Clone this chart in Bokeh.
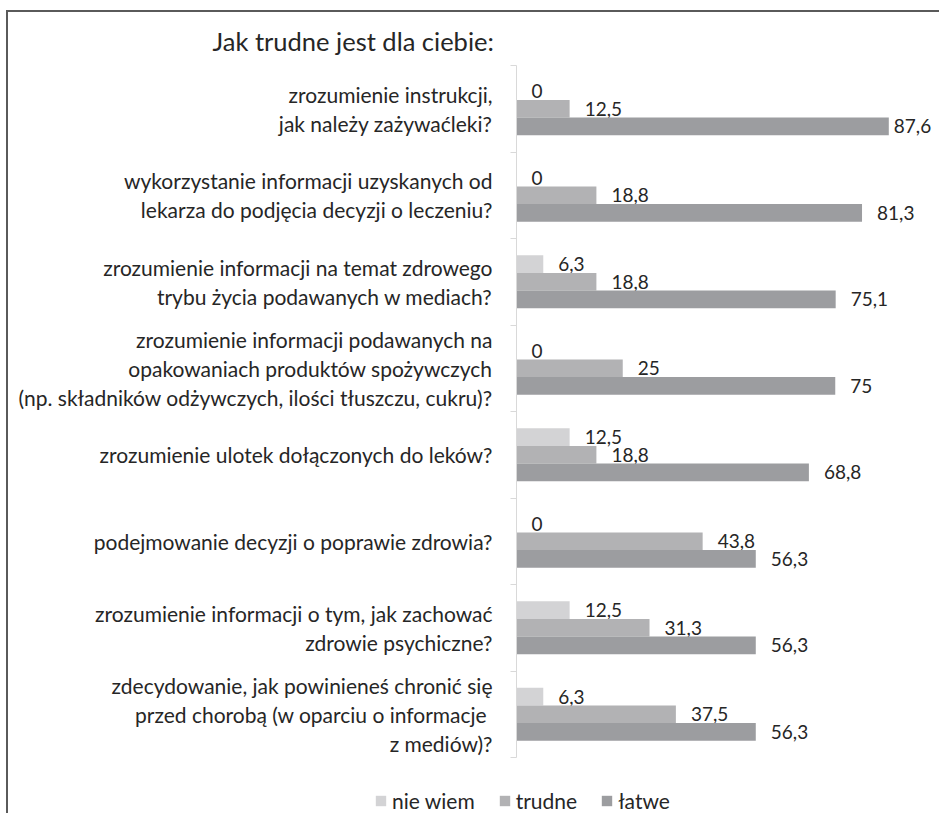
from bokeh.plotting import figure
from bokeh.models import FixedTicker, Legend, LegendItem, ColumnDataSource
from bokeh.core.properties import value
from bokeh.embed import file_html
from bokeh.resources import INLINE
import numpy as np

title = "Jak trudne jest dla ciebie:"
categories = [
    "zrozumienie instrukcji,\njak należy zażywaćleki?",
    "wykorzystanie informacji uzyskanych od\nlekarza do podjęcia decyzji o leczeniu?",
    "zrozumienie informacji na temat zdrowego\ntrybu życia podawanych w mediach?",
    "zrozumienie informacji podawanych na\nopakowaniach produktów spożywczych\n(np. składników odżywczych, ilości tłuszczu, cukru)?",
    "zrozumienie ulotek dołączonych do leków?",
    "podejmowanie decyzji o poprawie zdrowia?",
    "zrozumienie informacji o tym, jak zachować\nzdrowie psychiczne?",
    "zdecydowanie, jak powinieneś chronić się\nprzed chorobą (w oparciu o informacje \nz mediów)?",
]
series_names = ["nie wiem", "trudne", "łatwe"]
nie_wiem = [0, 0, 6.3, 0, 12.5, 0, 12.5, 6.3]
trudne = [12.5, 18.8, 18.8, 25, 18.8, 43.8, 31.3, 37.5]
latwe = [87.6, 81.3, 75.1, 75, 68.8, 56.3, 56.3, 56.3]

colors = ["#d3d3d5", "#b2b2b4", "#9c9da0"]
FONT = "Lato"
TXT = "#262626"
BORDER = "2px solid #5a5a5a"

n = len(categories)
centers = [n - i - 0.5 for i in range(n)]
bar_h = 0.205
offsets = [bar_h, 0.0, -bar_h]

p = figure(width=933, height=750, x_range=(0, 100), y_range=(0, n),
           output_backend="svg", toolbar_location=None, x_axis_location=None,
           min_border_left=508, min_border_right=0, min_border_top=53, min_border_bottom=5)
p.styles = {"margin-left": "6px", "margin-top": "10px",
            "border-left": BORDER, "border-top": BORDER}
p.outline_line_color = None
p.grid.visible = False
p.background_fill_color = "white"

p.title.text = title
p.title.align = "left"
p.title.offset = -304
p.title.text_font = FONT
p.title.text_font_size = "25.5px"
p.title.text_font_style = "normal"
p.title.text_color = TXT
p.title.standoff = 20

for vals, col, off in zip([nie_wiem, trudne, latwe], colors, offsets):
    vals = np.array(vals, dtype=float)
    ys = np.array(centers) + off
    labels = [f"{v:g}".replace(".", ",") for v in vals]
    xoff = np.where(vals > 85, 5, 15)
    src = ColumnDataSource(dict(y=ys, right=vals, label=labels, xoff=xoff))
    p.hbar(y="y", left=0, right="right", height=bar_h, source=src,
           fill_color=col, line_color=None)
    p.text(x="right", y="y", text="label", source=src, x_offset="xoff", y_offset=0,
           text_align="left", text_baseline="middle", text_font=value(FONT),
           text_font_size="19px", text_color=TXT)

ax = p.yaxis[0]
ax.ticker = FixedTicker(ticks=centers, minor_ticks=list(range(n + 1)))
ax.major_label_overrides = {c: lab for c, lab in zip(centers, categories)}
ax.major_tick_line_color = None
ax.major_tick_out = 0
ax.major_tick_in = 0
ax.minor_tick_line_color = "#d9d9d9"
ax.minor_tick_out = 6
ax.minor_tick_in = 0
ax.axis_line_color = "#d9d9d9"
ax.major_label_standoff = 18
ax.major_label_text_font = FONT
ax.major_label_text_font_size = "21px"
ax.major_label_text_color = TXT
ax.major_label_text_line_height = 1.15

# legend strip below the chart (separate root so its frame spans the full width)
leg = figure(width=933, height=53, x_range=(0, 1), y_range=(0, 1),
             output_backend="svg", toolbar_location=None,
             x_axis_location=None, y_axis_location=None,
             min_border_left=0, min_border_right=0, min_border_top=0, min_border_bottom=0)
leg.styles = {"margin-left": "6px", "border-left": BORDER}
leg.outline_line_color = None
leg.grid.visible = False
items = []
for name, col in zip(series_names, colors):
    r = leg.rect(x=0, y=0, width=0, height=0, fill_color=col, line_color=None)
    items.append(LegendItem(label=name, renderers=[r]))
legend = Legend(items=items, orientation="horizontal", location=(366, 0),
                padding=0, margin=0, spacing=23, label_standoff=5,
                glyph_width=13, glyph_height=13, border_line_color=None,
                background_fill_alpha=0, label_text_font=FONT,
                label_text_font_size="21px", label_text_color=TXT)
leg.add_layout(legend)

open("out.html", "w").write(file_html([p, leg], INLINE))
